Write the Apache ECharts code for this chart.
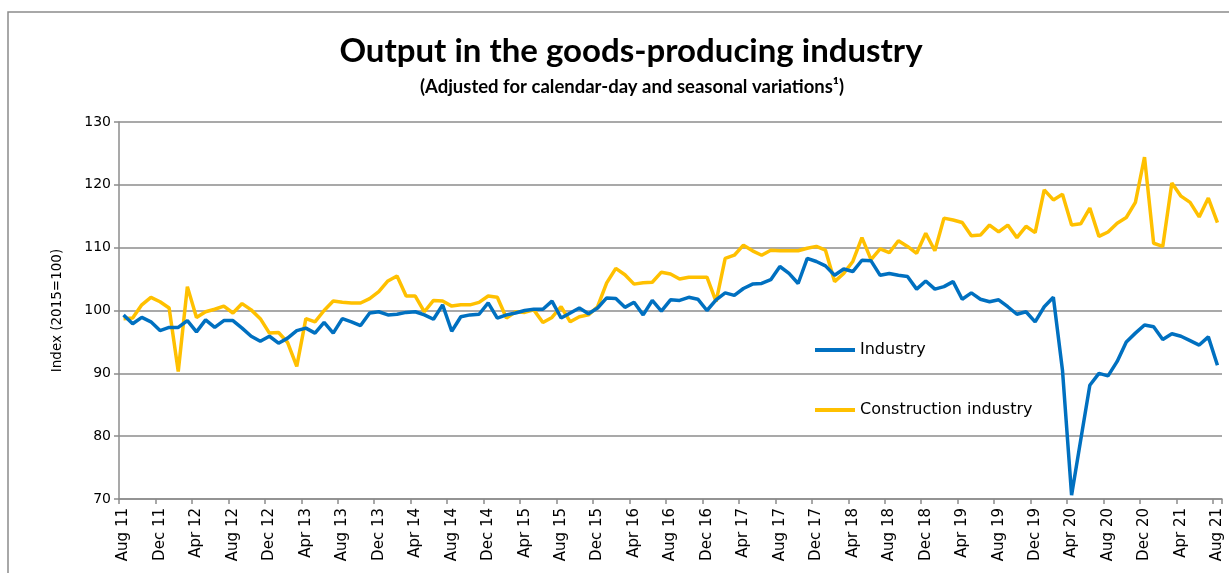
<!DOCTYPE html>
<html>
<head>
<meta charset="utf-8">
<title>Output in the goods-producing industry</title>
<script src="https://cdn.jsdelivr.net/npm/echarts@6/dist/echarts.min.js"></script>
<style>
  html, body { margin: 0; padding: 0; background: #fff; }
  #chart { width: 1229px; height: 573px; }
</style>
</head>
<body>
<div id="chart"></div>
<script>
// months Aug 2011 .. Aug 2021
const monthNames = ["Jan", "Feb", "Mar", "Apr", "May", "Jun", "Jul", "Aug", "Sep", "Oct", "Nov", "Dec"];
const categories = [];
for (let y = 2011, m = 7; y < 2021 || (y === 2021 && m <= 7); m++) {
  if (m > 11) { m = 0; y++; }
  if (y === 2021 && m > 7) break;
  categories.push(monthNames[m] + " " + String(y).slice(2));
}

const yTicks = [70, 80, 90, 100, 110, 120, 130];

// Index 2015=100
const industry = [
  99.3, 97.9, 98.9, 98.2, 96.8, 97.3, 97.3, 98.4, 96.6, 98.5, 97.3, 98.4,
  98.4, 97.2, 95.9, 95.1, 95.9, 94.8, 95.6, 96.8, 97.2, 96.4, 98.1, 96.4,
  98.7, 98.2, 97.6, 99.6, 99.8, 99.3, 99.4, 99.7, 99.8, 99.3, 98.6, 100.9,
  96.7, 99.0, 99.3, 99.4, 101.2, 98.8, 99.3, 99.6, 100.0, 100.2, 100.2, 101.5,
  98.8, 99.6, 100.4, 99.5, 100.4, 102.0, 101.9, 100.5, 101.3, 99.3, 101.6, 99.9,
  101.7, 101.6, 102.1, 101.8, 100.0, 101.7, 102.8, 102.4, 103.5, 104.2, 104.3, 104.9,
  107.0, 105.9, 104.3, 108.3, 107.8, 107.1, 105.6, 106.6, 106.2, 108.0, 107.9, 105.6,
  105.9, 105.6, 105.4, 103.4, 104.7, 103.4, 103.8, 104.6, 101.8, 102.8, 101.8, 101.4,
  101.7, 100.6, 99.4, 99.8, 98.2, 100.6, 102.1, 90.5, 70.6, 79.4, 88.1, 90.0,
  89.6, 91.9, 95.0, 96.4, 97.7, 97.4, 95.4, 96.3, 95.9, 95.2, 94.5, 95.8,
  91.3
];

const construction = [
  98.7, 98.8, 100.9, 102.1, 101.4, 100.4, 90.3, 103.8, 98.9, 99.8, 100.2, 100.7,
  99.6, 101.1, 100.1, 98.7, 96.4, 96.5, 94.9, 91.1, 98.7, 98.2, 100.0, 101.5,
  101.3, 101.2, 101.2, 101.9, 103.0, 104.7, 105.5, 102.3, 102.3, 99.8, 101.6, 101.5,
  100.7, 100.9, 100.9, 101.3, 102.3, 102.1, 98.8, 99.8, 99.7, 100.1, 98.1, 98.9,
  100.6, 98.2, 99.0, 99.3, 100.6, 104.4, 106.7, 105.7, 104.2, 104.4, 104.5, 106.1,
  105.8, 105.0, 105.3, 105.3, 105.3, 101.4, 108.3, 108.8, 110.4, 109.5, 108.8, 109.6,
  109.5, 109.5, 109.5, 109.9, 110.2, 109.6, 104.6, 105.9, 107.8, 111.6, 108.1, 109.8,
  109.2, 111.1, 110.2, 109.1, 112.3, 109.5, 114.7, 114.4, 114.0, 111.9, 112.0, 113.6,
  112.5, 113.6, 111.6, 113.4, 112.4, 119.2, 117.6, 118.5, 113.6, 113.8, 116.3, 111.8,
  112.5, 113.9, 114.8, 117.2, 124.4, 110.7, 110.2, 120.3, 118.2, 117.2, 114.9, 117.9,
  114.0
];

const gridGray = "#8c8c8c";
const axisFont = "'DejaVu Sans', Verdana, sans-serif";
const titleFont = "Lato, 'Liberation Sans', sans-serif";

let myChart = echarts.init(document.getElementById("chart"));

const option = {
  backgroundColor: "#fff",
  animation: false,
  title: [
    {
      text: "Output in the goods-producing industry",
      left: 626,
      top: 30,
      textAlign: "center",
      textStyle: { fontFamily: titleFont, fontWeight: "bold", fontSize: 33, color: "#000" }
    },
    {
      text: "(Adjusted for calendar-day and seasonal variations\u00b9)",
      left: 627,
      top: 73,
      textAlign: "center",
      textStyle: { fontFamily: titleFont, fontWeight: "bold", fontSize: 18.5, color: "#000" }
    }
  ],
  graphic: [
    {
      // chart frame (top and left edge visible)
      type: "polyline",
      shape: { points: [[8, 600], [8, 12], [1240, 12]] },
      style: { stroke: gridGray, lineWidth: 1.5, fill: null }
    }
  ],
  legend: [
    {
      data: ["Industry"],
      left: 815,
      top: 342,
      padding: 0,
      icon: "rect",
      itemWidth: 40,
      itemHeight: 4,
      itemGap: 5,
      textStyle: { fontFamily: axisFont, fontSize: 16, color: "#000" }
    },
    {
      data: ["Construction industry"],
      left: 815,
      top: 402,
      padding: 0,
      icon: "rect",
      itemWidth: 40,
      itemHeight: 4,
      itemGap: 5,
      textStyle: { fontFamily: axisFont, fontSize: 16, color: "#000" }
    }
  ],
  grid: {
    left: 119,
    right: 7,
    top: 122,
    bottom: 74,
    containLabel: false
  },
  xAxis: {
    type: "category",
    data: categories,
    boundaryGap: true,
    axisLine: { lineStyle: { color: gridGray, width: 1.5 } },
    axisTick: { show: true, length: 5, interval: 3, lineStyle: { color: gridGray, width: 1.5 } },
    axisLabel: {
      interval: 3,
      rotate: 90,
      margin: 9,
      fontFamily: axisFont,
      fontSize: 15,
      color: "#000"
    }
  },
  yAxis: {
    type: "value",
    min: yTicks[0],
    max: yTicks[yTicks.length - 1],
    interval: 10,
    name: "Index (2015=100)",
    nameLocation: "middle",
    nameRotate: 90,
    nameGap: 55,
    nameTextStyle: { fontFamily: axisFont, fontSize: 13.5, color: "#000" },
    axisLine: { show: true, lineStyle: { color: gridGray, width: 1.5 } },
    axisTick: { show: true, length: 5, lineStyle: { color: gridGray, width: 1.5 } },
    axisLabel: { margin: 8, fontFamily: axisFont, fontSize: 14, color: "#000" },
    splitLine: { lineStyle: { color: gridGray, width: 1.5 } }
  },
  series: [
    {
      name: "Industry",
      type: "line",
      data: industry,
      symbol: "none",
      itemStyle: { color: "#0070c0" },
      lineStyle: { color: "#0070c0", width: 3.5 },
      z: 3
    },
    {
      name: "Construction industry",
      type: "line",
      data: construction,
      symbol: "none",
      itemStyle: { color: "#ffc000" },
      lineStyle: { color: "#ffc000", width: 3.5 },
      z: 2
    }
  ]
};

myChart.setOption(option);
</script>
</body>
</html>
